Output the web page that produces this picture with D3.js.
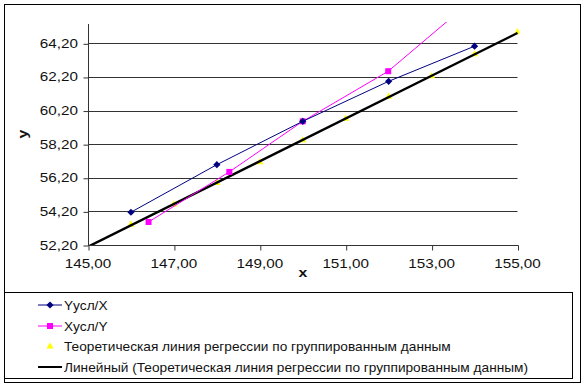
<!DOCTYPE html>
<html><head><meta charset="utf-8">
<script src="https://cdn.jsdelivr.net/npm/d3@7"></script>
<style>body{margin:0;background:#fff}svg text{font-family:"Liberation Sans",Arial,sans-serif}</style>
</head><body>
<svg id="c" width="586" height="384"></svg>
<script>
// Data
const seriesNames = ["Yусл/X", "Xусл/Y", "Теоретическая линия регрессии по группированным данным", "Линейный (Теоретическая линия регрессии по группированным данным)"];
const yCondX_x = [146, 148, 150, 152, 154];
const yCondX_y = [54.15, 56.98, 59.56, 61.94, 64.03];
const xCondY_x = [146.41, 148.29, 150.0, 151.99, 153.36];
const xCondY_y = [53.57, 56.55, 59.56, 62.54, 65.5];
const theo_x = [145, 146, 147, 148, 149, 150, 151, 152, 153, 154, 155];
const theo_y = [52.14, 53.41, 54.62, 55.9, 57.12, 58.43, 59.72, 61.03, 62.24, 63.55, 64.86];
const xTicks = [145, 147, 149, 151, 153, 155];
const yTicks = [52.2, 54.2, 56.2, 58.2, 60.2, 62.2, 64.2];
const xDomain = [145, 155];
const yDomain = [52.2, 65.35];

const svg = d3.select("#c");
const L = 88, R = 517.5, T = 24, B = 245;
const x = d3.scaleLinear().domain(xDomain).range([L, R]);
const y = d3.scaleLinear().domain(yDomain).range([B, T]);
const fmt = v => v.toFixed(2).replace(".", ",");

// outer border
svg.append("rect").attr("x", 4.5).attr("y", 4.5).attr("width", 576).attr("height", 378)
  .attr("fill", "#fff").attr("stroke", "#000").attr("stroke-width", 1);

function txt(g, tx, ty, s, anchor, size, weight, rot, sx) {
  const t = g.append("text").attr("transform", `translate(${tx},${ty})` + (rot ? ` rotate(${rot})` : "") + ` scale(${sx || 1.22},1)`)
    .attr("text-anchor", anchor).attr("font-size", size).attr("fill", "#111").text(s);
  if (weight) t.attr("font-weight", weight);
  return t;
}

// grid
svg.append("g").selectAll("line").data(yTicks.filter(v => v > yDomain[0])).join("line")
  .attr("x1", L).attr("x2", R).attr("y1", d => Math.round(y(d)) + 0.5).attr("y2", d => Math.round(y(d)) + 0.5)
  .attr("stroke", "#333").attr("stroke-width", 1);

// axes
const yAxis = svg.append("g").attr("transform", `translate(${L + 0.5},0.5)`)
  .call(d3.axisLeft(y).tickValues(yTicks).tickSize(5).tickFormat(""));
const xAxis = svg.append("g").attr("transform", `translate(0.5,${B + 0.5})`)
  .call(d3.axisBottom(x).tickValues(xTicks).tickSize(5).tickFormat(""));
[yAxis, xAxis].forEach(a => { a.selectAll("path,line").attr("stroke", "#333"); a.select(".domain").attr("d", null); });
svg.append("line").attr("x1", L + 0.5).attr("x2", L + 0.5).attr("y1", T).attr("y2", B + 0.5).attr("stroke", "#333");
svg.append("line").attr("x1", L).attr("x2", R + 1).attr("y1", B + 0.5).attr("y2", B + 0.5).attr("stroke", "#333");

const lab = svg.append("g");
yTicks.forEach(v => txt(lab, 78, y(v) + 4.5, fmt(v), "end", 12.5));
xTicks.forEach(v => txt(lab, x(v), 267.5, fmt(v), "middle", 12.5));
txt(lab, 303, 277, "x", "middle", 13, "bold");
txt(lab, 27, 134, "y", "middle", 13, "bold", -90);

// clip
svg.append("clipPath").attr("id", "pc").append("rect").attr("x", L).attr("y", T - 2).attr("width", R - L + 2).attr("height", B - T + 2);
const plot = svg.append("g").attr("clip-path", "url(#pc)");

// linear trend (least squares on theoretical points)
const mx = d3.mean(theo_x), my = d3.mean(theo_y);
const slope = d3.sum(theo_x, (d, i) => (d - mx) * (theo_y[i] - my)) / d3.sum(theo_x, d => (d - mx) ** 2);
const icpt = my - slope * mx;
const line = d3.line().x(d => x(d[0])).y(d => y(d[1]));

const inDom = (xx, yy) => yy >= yDomain[0] && yy <= yDomain[1] && xx >= xDomain[0] && xx <= xDomain[1];
const tri = d3.symbol().type(d3.symbolTriangle).size(22);
const dia = "M0,-3.6L3.6,0L0,3.6L-3.6,0Z";

// yellow markers
theo_x.forEach((xx, i) => {
  if (!inDom(xx, theo_y[i])) return;
  plot.append("path").attr("d", tri).attr("transform", `translate(${x(xx)},${y(theo_y[i])})`).attr("fill", "#ffff00");
});

// trend line
plot.append("path").attr("d", line([[xDomain[0], icpt + slope * xDomain[0]], [xDomain[1], icpt + slope * xDomain[1]]]))
  .attr("stroke", "#000").attr("stroke-width", 2.4).attr("fill", "none");

// magenta
plot.append("path").attr("d", line(xCondY_x.map((d, i) => [d, xCondY_y[i]]))).attr("stroke", "#ff00ff").attr("stroke-width", 1).attr("fill", "none");
xCondY_x.forEach((xx, i) => {
  if (!inDom(xx, xCondY_y[i])) return;
  plot.append("rect").attr("x", x(xx) - 3).attr("y", y(xCondY_y[i]) - 3).attr("width", 6).attr("height", 6).attr("fill", "#ff00ff");
});
// blue
plot.append("path").attr("d", line(yCondX_x.map((d, i) => [d, yCondX_y[i]]))).attr("stroke", "#000080").attr("stroke-width", 1).attr("fill", "none");
yCondX_x.forEach((xx, i) => {
  plot.append("path").attr("d", dia).attr("transform", `translate(${x(xx)},${y(yCondX_y[i])})`).attr("fill", "#000080");
});

// legend
svg.append("rect").attr("x", 4.5).attr("y", 292.5).attr("width", 568).attr("height", 86).attr("fill", "#fff").attr("stroke", "#000");
const lg = svg.append("g");
const rows = [305, 326, 346.5, 367];
seriesNames.forEach((n, i) => {
  const cy = rows[i];
  if (i === 0) {
    lg.append("line").attr("x1", 38).attr("x2", 62).attr("y1", cy).attr("y2", cy).attr("stroke", "#000080");
    lg.append("path").attr("d", dia).attr("transform", `translate(50,${cy})`).attr("fill", "#000080");
  } else if (i === 1) {
    lg.append("line").attr("x1", 38).attr("x2", 62).attr("y1", cy).attr("y2", cy).attr("stroke", "#ff00ff");
    lg.append("rect").attr("x", 47).attr("y", cy - 3).attr("width", 6).attr("height", 6).attr("fill", "#ff00ff");
  } else if (i === 2) {
    lg.append("path").attr("d", tri).attr("transform", `translate(50,${cy})`).attr("fill", "#ffff00");
  } else {
    lg.append("line").attr("x1", 38).attr("x2", 62).attr("y1", cy).attr("y2", cy).attr("stroke", "#000").attr("stroke-width", 2);
  }
  txt(lg, 64, cy + 4.5, n, "start", 12, null, null, 1.14);
});
</script>
</body></html>
